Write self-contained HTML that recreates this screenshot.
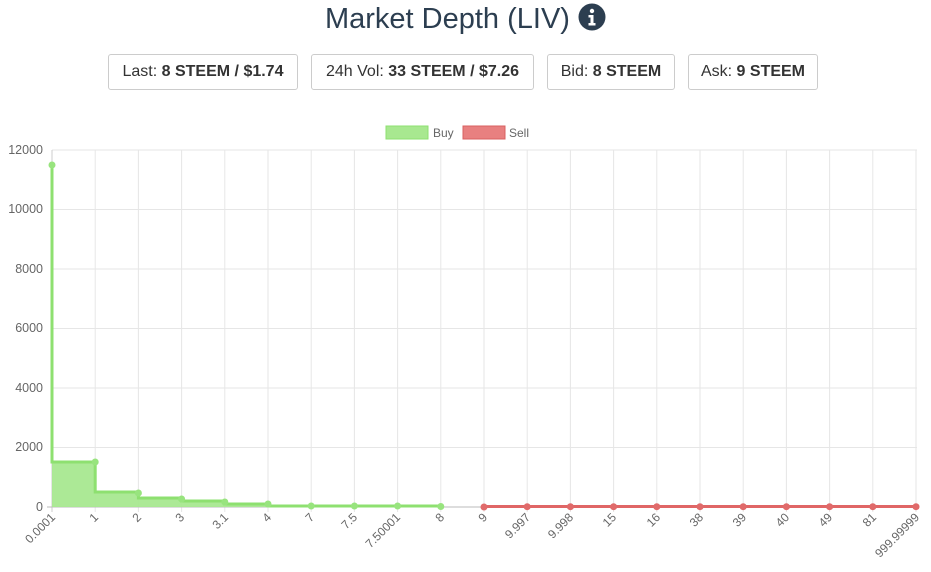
<!DOCTYPE html>
<html><head><meta charset="utf-8"><style>
body{margin:0;background:#fff;width:931px;height:572px;overflow:hidden;font-family:"Liberation Sans",sans-serif}
h1{position:absolute;top:0;left:0;width:931px;text-align:center;margin:0;font-size:29px;font-weight:normal;color:#2c3e50;line-height:38px;padding-top:0px}
.box{position:absolute;top:54px;height:34px;border:1px solid #ccc;border-radius:3px;font-size:16px;color:#333;line-height:34px;text-align:center}
.box b{font-weight:bold}
</style></head><body>
<h1>Market Depth (LIV) <svg width="28" height="28" viewBox="0 0 28 28" style="vertical-align:-3px"><circle cx="14" cy="14" r="13.5" fill="#2c3e50"/><circle cx="14" cy="8" r="2.2" fill="#fff"/><path d="M10.5 12h5v8h2v2.5h-7V20h2v-5.5h-2z" fill="#fff"/></svg></h1>
<div class="box" style="left:108px;width:188px">Last: <b>8 STEEM / $1.74</b></div>
<div class="box" style="left:311px;width:221px">24h Vol: <b>33 STEEM / $7.26</b></div>
<div class="box" style="left:547px;width:126px">Bid: <b>8 STEEM</b></div>
<div class="box" style="left:688px;width:128px">Ask: <b>9 STEEM</b></div>
<svg width="931" height="572" style="position:absolute;left:0;top:0" font-family="Liberation Sans,sans-serif" font-size="12" fill="#666">
<rect x="386" y="126" width="42" height="13" fill="#a8e890" stroke="#8ee070"/><text x="433" y="137">Buy</text>
<rect x="463" y="126" width="42" height="13" fill="#e88080" stroke="#d86060"/><text x="509" y="137">Sell</text>
<g stroke="#e6e6e6" stroke-width="1">
<line x1="52" y1="150" x2="917" y2="150"/><line x1="52" y1="209.5" x2="917" y2="209.5"/><line x1="52" y1="269" x2="917" y2="269"/><line x1="52" y1="328.5" x2="917" y2="328.5"/><line x1="52" y1="388" x2="917" y2="388"/><line x1="52" y1="447.5" x2="917" y2="447.5"/>
<line x1="95.2" y1="150" x2="95.2" y2="512"/><line x1="138.4" y1="150" x2="138.4" y2="512"/><line x1="181.6" y1="150" x2="181.6" y2="512"/><line x1="224.8" y1="150" x2="224.8" y2="512"/><line x1="268" y1="150" x2="268" y2="512"/><line x1="311.2" y1="150" x2="311.2" y2="512"/><line x1="354.4" y1="150" x2="354.4" y2="512"/><line x1="397.6" y1="150" x2="397.6" y2="512"/><line x1="440.8" y1="150" x2="440.8" y2="512"/><line x1="484" y1="150" x2="484" y2="512"/><line x1="527.2" y1="150" x2="527.2" y2="512"/><line x1="570.4" y1="150" x2="570.4" y2="512"/><line x1="613.6" y1="150" x2="613.6" y2="512"/><line x1="656.8" y1="150" x2="656.8" y2="512"/><line x1="700" y1="150" x2="700" y2="512"/><line x1="743.2" y1="150" x2="743.2" y2="512"/><line x1="786.4" y1="150" x2="786.4" y2="512"/><line x1="829.6" y1="150" x2="829.6" y2="512"/><line x1="872.8" y1="150" x2="872.8" y2="512"/><line x1="916" y1="150" x2="916" y2="512"/>
</g>
<line x1="52" y1="150" x2="52" y2="512" stroke="#ccc"/>
<line x1="47" y1="507" x2="917" y2="507" stroke="#bbb"/>
<g text-anchor="end" font-size="12.5">
<text x="43" y="154">12000</text><text x="43" y="213">10000</text><text x="43" y="273">8000</text><text x="43" y="332">6000</text><text x="43" y="392">4000</text><text x="43" y="451">2000</text><text x="43" y="511">0</text>
</g>
<path d="M52,165 L52,462 L95.2,462 L95.2,492 L138.4,492 L138.4,498 L181.6,498 L181.6,501 L224.8,501 L224.8,504 L268,504 L268,506 L440.8,506 L440.8,507 L52,507Z" fill="#a8e890" fill-opacity="0.95"/>
<path d="M52,165 L52,462 L95.2,462 L95.2,492 L138.4,492 L138.4,498 L181.6,498 L181.6,501 L224.8,501 L224.8,504 L268,504 L268,506 L440.8,506" fill="none" stroke="#8ee070" stroke-width="3"/>
<g fill="#98e47e">
<circle cx="52" cy="165" r="3.5"/><circle cx="95.2" cy="462" r="3.5"/><circle cx="138.4" cy="493" r="3.5"/><circle cx="181.6" cy="499" r="3.5"/><circle cx="224.8" cy="502" r="3.5"/><circle cx="268" cy="504" r="3.5"/><circle cx="311.2" cy="506" r="3.5"/><circle cx="354.4" cy="506" r="3.5"/><circle cx="397.6" cy="506" r="3.5"/><circle cx="440.8" cy="506.5" r="3.5"/>
</g>
<line x1="484" y1="506.5" x2="916" y2="506.5" stroke="#e06666" stroke-width="3"/>
<g fill="#e06a6a">
<circle cx="484" cy="507" r="3.5"/><circle cx="527.2" cy="506.7" r="3.5"/><circle cx="570.4" cy="506.7" r="3.5"/><circle cx="613.6" cy="506.7" r="3.5"/><circle cx="656.8" cy="506.7" r="3.5"/><circle cx="700" cy="506.7" r="3.5"/><circle cx="743.2" cy="506.7" r="3.5"/><circle cx="786.4" cy="506.7" r="3.5"/><circle cx="829.6" cy="506.7" r="3.5"/><circle cx="872.8" cy="506.7" r="3.5"/><circle cx="916" cy="506.7" r="3.5"/>
</g>
<g text-anchor="end" font-size="12">
<text transform="translate(56,518) rotate(-45)">0.0001</text>
<text transform="translate(99,518) rotate(-45)">1</text>
<text transform="translate(142,518) rotate(-45)">2</text>
<text transform="translate(185,518) rotate(-45)">3</text>
<text transform="translate(229,518) rotate(-45)">3.1</text>
<text transform="translate(272,518) rotate(-45)">4</text>
<text transform="translate(315,518) rotate(-45)">7</text>
<text transform="translate(358,518) rotate(-45)">7.5</text>
<text transform="translate(401,518) rotate(-45)">7.50001</text>
<text transform="translate(445,518) rotate(-45)">8</text>
<text transform="translate(488,518) rotate(-45)">9</text>
<text transform="translate(531,518) rotate(-45)">9.997</text>
<text transform="translate(574,518) rotate(-45)">9.998</text>
<text transform="translate(617,518) rotate(-45)">15</text>
<text transform="translate(661,518) rotate(-45)">16</text>
<text transform="translate(704,518) rotate(-45)">38</text>
<text transform="translate(747,518) rotate(-45)">39</text>
<text transform="translate(790,518) rotate(-45)">40</text>
<text transform="translate(833,518) rotate(-45)">49</text>
<text transform="translate(877,518) rotate(-45)">81</text>
<text transform="translate(920,518) rotate(-45)">999.99999</text>
</g>
</svg>
</body></html>
